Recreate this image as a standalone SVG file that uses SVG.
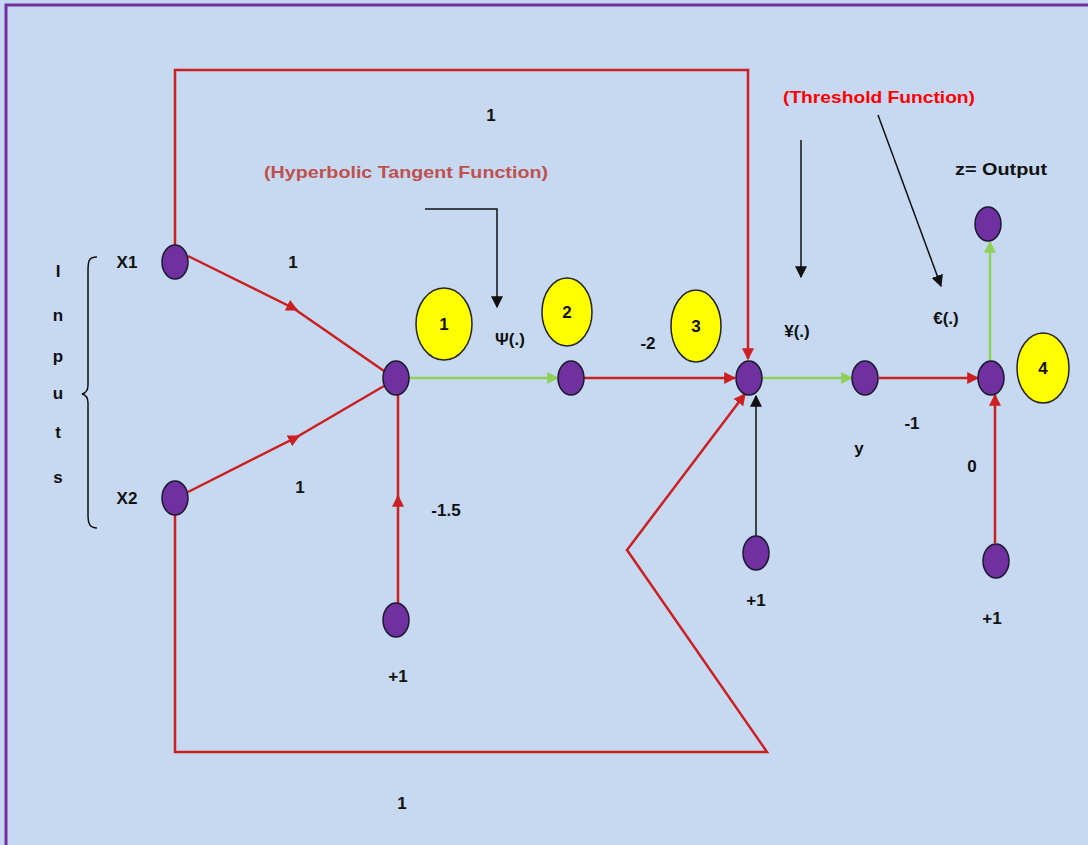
<svg xmlns="http://www.w3.org/2000/svg" width="1088" height="845" viewBox="0 0 1088 845">
<defs>
<marker id="ar" viewBox="0 0 10 10" refX="9" refY="5" markerWidth="12" markerHeight="12" markerUnits="userSpaceOnUse" orient="auto"><path d="M0,0 L10,5 L0,10 z" fill="#cc1f1f"/></marker>
<marker id="ag" viewBox="0 0 10 10" refX="9" refY="5" markerWidth="12" markerHeight="12" markerUnits="userSpaceOnUse" orient="auto"><path d="M0,0 L10,5 L0,10 z" fill="#8fd05a"/></marker>
<marker id="ak" viewBox="0 0 10 10" refX="9" refY="5" markerWidth="12" markerHeight="12" markerUnits="userSpaceOnUse" orient="auto"><path d="M0,0 L10,5 L0,10 z" fill="#111"/></marker>
</defs>
<style>
.n{fill:#7030a0;stroke:#1a1a2e;stroke-width:1.5}
.y{fill:#ffff00;stroke:#222;stroke-width:1.5}
.r{stroke:#cc1f1f;stroke-width:2.5;fill:none}
.g{stroke:#8fd05a;stroke-width:2.5;fill:none}
.k{stroke:#111;stroke-width:1.5;fill:none}
text{font-family:"Liberation Sans",Arial,sans-serif;font-weight:bold;font-size:17px;fill:#111}
.c{text-anchor:middle}
</style>
<rect x="0" y="0" width="1088" height="845" fill="#c6d9f0"/>
<path d="M6,845 V5 H1088" fill="none" stroke="#7030a0" stroke-width="3"/>

<g id="connectors">
<path class="r" d="M175,245 V70 H748 V359" marker-end="url(#ar)"/>
<path class="r" d="M188,256 L297,310" marker-end="url(#ar)"/>
<path class="r" d="M293,308 L384,371"/>
<path class="r" d="M188,492 L299,436" marker-end="url(#ar)"/>
<path class="r" d="M295,438 L384,386"/>
<path class="r" d="M398,603 L398,496" marker-end="url(#ar)"/>
<path class="r" d="M398,499 L398,395"/>
<path class="g" d="M409,378 H558" marker-end="url(#ag)"/>
<path class="r" d="M584,378 H735" marker-end="url(#ar)"/>
<path class="r" d="M175,515 V752 H767 L627,550 L745,394" marker-end="url(#ar)"/>
<path class="k" d="M756,536 V396" stroke-width="2" marker-end="url(#ak)"/>
<path class="g" d="M762,378 H852" marker-end="url(#ag)"/>
<path class="r" d="M879,378 H978" marker-end="url(#ar)"/>
<path class="r" d="M995,543 V395" marker-end="url(#ar)"/>
<path class="g" d="M990,361 V242" stroke-width="2" marker-end="url(#ag)"/>
<path class="k" d="M425,209 H497 V307" marker-end="url(#ak)"/>
<path class="k" d="M801,140 V277" marker-end="url(#ak)"/>
<path class="k" d="M878,115 L941,286" marker-end="url(#ak)"/>
<path class="k" d="M97,257 C88,257 88,262 88,272 V385 C88,390 86,393 82,394 C86,395 88,398 88,403 V515 C88,524 90,528 97,528" stroke-width="1.2"/>
</g>

<g id="yellow-labels">
<g id="y1"><ellipse class="y" cx="444" cy="324" rx="28" ry="36"/><text class="c" x="444" y="330" font-size="15">1</text></g>
<g id="y2"><ellipse class="y" cx="567" cy="312" rx="25" ry="34"/><text class="c" x="567" y="318" font-size="15">2</text></g>
<g id="y3"><ellipse class="y" cx="696" cy="326" rx="25" ry="36"/><text class="c" x="696" y="332" font-size="15">3</text></g>
<g id="y4"><ellipse class="y" cx="1043" cy="368" rx="26" ry="35"/><text class="c" x="1043" y="374" font-size="15">4</text></g>
</g>

<g id="node-x1"><ellipse class="n" cx="175" cy="262" rx="13" ry="17"/></g>
<g id="node-x2"><ellipse class="n" cx="175" cy="498" rx="13" ry="17"/></g>
<g id="node-hidden"><ellipse class="n" cx="396" cy="378" rx="13" ry="17"/></g>
<g id="node-bias1"><ellipse class="n" cx="396" cy="620" rx="13" ry="17"/></g>
<g id="node-2"><ellipse class="n" cx="571" cy="378" rx="13" ry="17"/></g>
<g id="node-3"><ellipse class="n" cx="749" cy="378" rx="13" ry="17"/></g>
<g id="node-bias2"><ellipse class="n" cx="756" cy="553" rx="13" ry="17"/></g>
<g id="node-y"><ellipse class="n" cx="865" cy="378" rx="13" ry="17"/></g>
<g id="node-sum"><ellipse class="n" cx="991" cy="378" rx="13" ry="17"/></g>
<g id="node-bias3"><ellipse class="n" cx="996" cy="561" rx="13" ry="17"/></g>
<g id="node-out"><ellipse class="n" cx="988" cy="224" rx="13" ry="17"/></g>

<g id="labels">
<text class="c" x="491" y="121">1</text>
<text class="c" x="406" y="178" style="fill:#c0504d" textLength="284" lengthAdjust="spacingAndGlyphs">(Hyperbolic Tangent Function)</text>
<text class="c" x="879" y="103" style="fill:#ff0000" textLength="192" lengthAdjust="spacingAndGlyphs">(Threshold Function)</text>
<text class="c" x="1001" y="175" textLength="92" lengthAdjust="spacingAndGlyphs">z= Output</text>
<text class="c" x="127" y="268">X1</text>
<text class="c" x="127" y="504">X2</text>
<text class="c" x="293" y="268">1</text>
<text class="c" x="300" y="493">1</text>
<text class="c" x="510" y="345">Ψ(.)</text>
<text class="c" x="648" y="349">-2</text>
<text class="c" x="797" y="337">¥(.)</text>
<text class="c" x="946" y="324">€(.)</text>
<text class="c" x="446" y="516">-1.5</text>
<text class="c" x="398" y="682">+1</text>
<text class="c" x="756" y="606">+1</text>
<text class="c" x="859" y="454">y</text>
<text class="c" x="912" y="429">-1</text>
<text class="c" x="972" y="472">0</text>
<text class="c" x="992" y="624">+1</text>
<text class="c" x="402" y="809">1</text>
<text class="c" x="58" y="277">I</text>
<text class="c" x="58" y="321">n</text>
<text class="c" x="58" y="362">p</text>
<text class="c" x="58" y="399">u</text>
<text class="c" x="58" y="438">t</text>
<text class="c" x="58" y="483">s</text>
</g>
</svg>
